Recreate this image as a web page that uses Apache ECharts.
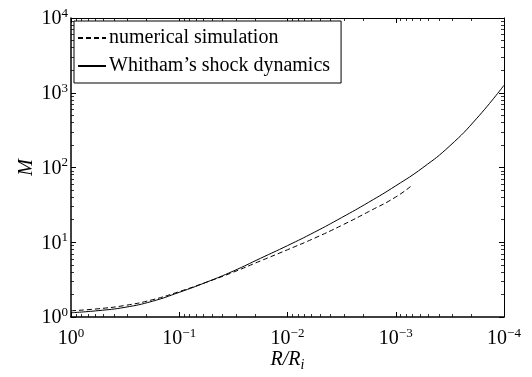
<!DOCTYPE html>
<html>
<head>
<meta charset="utf-8">
<script src="https://cdn.jsdelivr.net/npm/echarts@6/dist/echarts.min.js"></script>
<style>
  html, body { margin: 0; padding: 0; background: #fff; }
  #chart { width: 532px; height: 377px; }
</style>
</head>
<body>
<div id="chart"></div>
<script>
// Radius ratio R/R_i (log scale, decreasing to the right)
const radiusRatio = [1, 0.5623, 0.3162, 0.1778, 0.1, 0.05623, 0.03162, 0.01778, 0.01,
  0.005623, 0.003162, 0.001778, 0.001, 0.0005623, 0.0003162, 0.0001778, 0.0001];
// Whitham's shock dynamics: Mach number at each radius ratio
const whithamM = [1.14, 1.216, 1.349, 1.622, 2.138, 2.917, 4.121, 6.095, 9.016,
  13.65, 21.38, 34.28, 56.89, 99.5, 195, 457, 1259];
// Numerical simulation (ends before 10^-3.2)
const simRatio = [1, 0.5623, 0.3162, 0.1778, 0.1, 0.05623, 0.03162, 0.01778, 0.01,
  0.005623, 0.003162, 0.001778, 0.001, 0.00071];
const simM = [1.211, 1.288, 1.429, 1.698, 2.188, 2.917, 3.981, 5.623, 7.943,
  11.35, 16.79, 25.70, 40.27, 57.5];

const FONT = 'Liberation Serif';

function powerLabel(v) {
  const e = Math.round(Math.log10(v));
  const s = e < 0 ? '\u2212' + (-e) : String(e);
  return '{b|10}{sup|' + s + '}';
}
const labelRich = {
  b: { fontFamily: FONT, fontSize: 20, color: '#000', verticalAlign: 'bottom', lineHeight: 22 },
  sup: { fontFamily: FONT, fontSize: 13, color: '#000', verticalAlign: 'top', lineHeight: 22, padding: [0, 0, 8, 0] }
};

function logAxisBase(extra) {
  return Object.assign({
    type: 'log',
    logBase: 10,
    axisLine: { show: true, onZero: false, lineStyle: { color: '#000', width: 1 } },
    axisTick: { show: true, inside: true, length: 5, lineStyle: { color: '#000', width: 1 } },
    minorTick: { show: true, splitNumber: 9, length: 3, lineStyle: { color: '#000', width: 0.8 } },
    splitLine: { show: false },
    minorSplitLine: { show: false }
  }, extra);
}

const chart = echarts.init(document.getElementById('chart'), null, { renderer: 'canvas' });
chart.setOption({
  animation: false,
  backgroundColor: '#fff',
  grid: { left: 71, right: 28, top: 18, bottom: 60, containLabel: false, outerBoundsMode: 'none' },
  legend: {
    left: 74, top: 21,
    orient: 'vertical',
    backgroundColor: '#fff',
    borderColor: '#000',
    borderWidth: 1,
    borderRadius: 0,
    padding: [7, 11, 7, 3],
    itemGap: 8,
    itemWidth: 28,
    itemHeight: 18,
    itemStyle: { opacity: 0 },
    textStyle: { fontFamily: FONT, fontSize: 20, color: '#000', padding: [0, 0, 0, -2] },
    data: ['numerical simulation', 'Whitham\u2019s shock dynamics']
  },
  xAxis: [
    logAxisBase({
      position: 'bottom',
      min: 0.0001, max: 1, inverse: true,
      axisLine: { show: true, onZero: false, lineStyle: { color: '#000', width: 1.5 } },
      axisLabel: { show: true, margin: 10, formatter: powerLabel, rich: labelRich },
      name: '{it|R/R}{sub|i}',
      nameLocation: 'middle',
      nameGap: 33,
      nameMoveOverlap: false,
      nameTextStyle: {
        rich: {
          it: { fontFamily: FONT, fontStyle: 'italic', fontSize: 20, color: '#000', verticalAlign: 'top', lineHeight: 22 },
          sub: { fontFamily: FONT, fontStyle: 'italic', fontSize: 14, color: '#000', verticalAlign: 'bottom', lineHeight: 22, padding: [10, 0, 0, 0] }
        }
      }
    }),
    logAxisBase({
      position: 'top',
      min: 0.0001, max: 1, inverse: true,
      axisLabel: { show: false }
    })
  ],
  yAxis: [
    logAxisBase({
      position: 'left',
      min: 1, max: 10000,
      axisLine: { show: true, onZero: false, lineStyle: { color: '#000', width: 1.5 } },
      axisLabel: { show: true, margin: 3, formatter: powerLabel, rich: labelRich },
      name: 'M',
      nameLocation: 'middle',
      nameRotate: 90,
      nameGap: 34,
      nameMoveOverlap: false,
      nameTextStyle: { fontFamily: FONT, fontStyle: 'italic', fontSize: 20, color: '#000' }
    }),
    logAxisBase({
      position: 'right',
      min: 1, max: 10000,
      axisLabel: { show: false }
    })
  ],
  series: [
    {
      name: 'numerical simulation',
      type: 'line',
      xAxisIndex: 0, yAxisIndex: 0,
      symbol: 'none',
      smooth: 0.5,
      lineStyle: { color: '#000', width: 1, type: [5, 3] },
      itemStyle: { color: '#000' },
      data: simRatio.map((r, i) => [r, simM[i]])
    },
    {
      name: 'Whitham\u2019s shock dynamics',
      type: 'line',
      xAxisIndex: 0, yAxisIndex: 0,
      symbol: 'none',
      smooth: 0.5,
      lineStyle: { color: '#000', width: 1, type: 'solid' },
      itemStyle: { color: '#000' },
      data: radiusRatio.map((r, i) => [r, whithamM[i]])
    }
  ]
});
</script>
</body>
</html>
